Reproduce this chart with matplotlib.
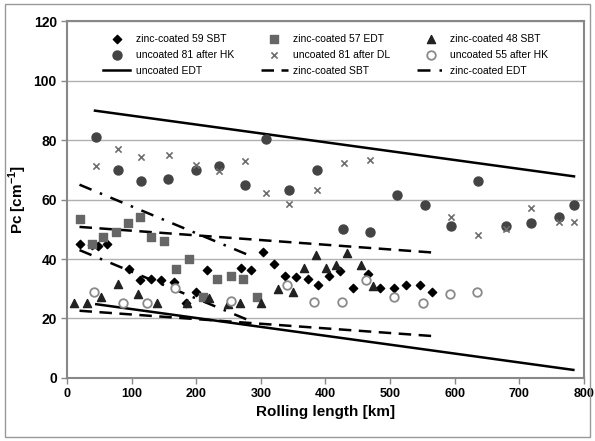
import matplotlib.pyplot as plt
from matplotlib.patches import Rectangle

plt.rcParams['font.family'] = ['Liberation Sans', 'DejaVu Sans']
plt.rcParams['mathtext.fontset'] = 'custom'
plt.rcParams['mathtext.rm'] = 'Liberation Sans'
plt.rcParams['mathtext.bf'] = 'Liberation Sans:bold'

# zinc-coated 59 SBT (diamonds)
km_z59 = [19, 38, 47, 61, 95, 113, 130, 146, 165, 184, 199, 217, 269, 285, 303, 321, 338, 355, 373,
          389, 405, 423, 443, 466, 485, 506, 525, 547, 565]
pc_z59 = [45, 44.6, 44.3, 45, 36.8, 33.1, 33.3, 33.1, 32.3, 25.3, 29, 36.2, 37, 36.2, 42.3, 38.2, 34.3, 33.8, 33.2,
          31.3, 34.3, 36.1, 30.1, 35.1, 30.1, 30.1, 31.3, 31.2, 29]

# zinc-coated 57 EDT (squares)
km_z57 = [19, 38, 56, 76, 94, 113, 130, 150, 168, 189, 211, 232, 253, 273, 294]
pc_z57 = [53.4, 45, 47.4, 49, 52.2, 54, 47.3, 46.1, 36.8, 39.9, 27.3, 33.2, 34.3, 33.2, 27.3]

# zinc-coated 48 SBT (triangles)
km_z48 = [10, 30, 52, 79, 109, 139, 185, 219, 249, 268, 300, 327, 349, 366, 385, 401, 416, 434, 455, 474]
pc_z48 = [25.2, 25.2, 27.1, 31.7, 28.3, 25.3, 25.3, 27, 24.9, 25.3, 25.1, 29.9, 29, 36.9, 41.2, 37, 38.1, 42.1, 38, 31]

# uncoated 81 after HK (filled circles)
km_u81hk = [44, 78, 114, 156, 200, 235, 276, 308, 343, 387, 427, 469, 511, 554, 594, 637, 680, 718, 761, 785]
pc_u81hk = [81, 70, 66.2, 67, 70, 71.2, 65, 80.4, 63.3, 70, 50.2, 49.1, 61.4, 58.3, 51, 66.2, 51, 52.1, 54.1, 58.3]

# uncoated 81 after DL (x)
km_u81dl = [44, 79, 114, 157, 200, 235, 276, 308, 343, 387, 428, 469, 594, 637, 680, 718, 761, 785]
pc_u81dl = [71.2, 77, 74.3, 75, 71.5, 69.5, 72.9, 62.2, 58.4, 63.3, 72.4, 73.2, 54.1, 48, 50, 57.1, 52.5, 52.5]

# uncoated 55 after HK (open circles)
km_u55 = [42, 86, 124, 167, 254, 340, 383, 425, 463, 506, 551, 593, 635]
pc_u55 = [29, 25.3, 25.3, 30.1, 26, 31.2, 25.4, 25.4, 33.1, 27.1, 25.3, 28.2, 29]

# trend lines (start, end)
edt_unc_x = [[43, 785], [45, 784]]
edt_unc_y = [[89.9, 67.8], [24.8, 2.7]]
sbt_zinc_x = [[19, 565], [19, 565]]
sbt_zinc_y = [[50.8, 42.2], [22.6, 14.1]]
edt_zinc_x = [[19, 290], [19, 290]]
edt_zinc_y = [[65, 40.5], [43, 18.6]]

fig = plt.figure(figsize=(5.95, 4.41), dpi=100)
ax = fig.add_axes([0.113, 0.143, 0.868, 0.809])

ax.scatter(km_z59, pc_z59, marker='D', s=18, color='black', label='zinc-coated 59 SBT', zorder=3)
ax.scatter(km_z57, pc_z57, marker='s', s=36, color='#666666', label='zinc-coated 57 EDT', zorder=3)
ax.scatter(km_z48, pc_z48, marker='^', s=34, color='#222222', label='zinc-coated 48 SBT', zorder=3)
ax.scatter(km_u81hk, pc_u81hk, marker='o', s=42, color='#444444', label='uncoated 81 after HK', zorder=3)
ax.scatter(km_u81dl, pc_u81dl, marker='x', s=20, color='#6e6e6e', linewidths=1.2,
           label='uncoated 81 after DL', zorder=3)
ax.scatter(km_u55, pc_u55, marker='o', s=38, facecolors='white', edgecolors='#8a8a8a', linewidths=1.3,
           label='uncoated 55 after HK', zorder=3)

for i in range(2):
    ax.plot(edt_unc_x[i], edt_unc_y[i], color='black', lw=1.8,
            label='uncoated EDT' if i == 0 else None, zorder=2)
for i in range(2):
    ax.plot(edt_zinc_x[i], edt_zinc_y[i], color='black', lw=1.8, dashes=(5.2, 3.6, 1, 3.6),
            label='zinc-coated EDT' if i == 0 else None, zorder=2)
for i in range(2):
    ax.plot(sbt_zinc_x[i], sbt_zinc_y[i], color='black', lw=1.8, dashes=(5, 3),
            label='zinc-coated SBT' if i == 0 else None, zorder=2)

ax.set_xlim(0, 800)
ax.set_ylim(0, 120)
ax.set_xticks(range(0, 801, 100))
ax.set_yticks(range(0, 121, 20))
ax.yaxis.grid(True, color='#b0b0b0', lw=1)
ax.set_axisbelow(True)
for sp in ax.spines.values():
    sp.set_color('#888888')
    sp.set_linewidth(1.5)
ax.tick_params(axis='both', colors='#888888', labelcolor='black', length=4, width=1)
for lbl in ax.get_xticklabels():
    lbl.set_fontweight('bold')
    lbl.set_fontsize(9)
for lbl in ax.get_yticklabels():
    lbl.set_fontweight('bold')
    lbl.set_fontsize(10)

ax.set_xlabel('Rolling length [km]', fontsize=11, fontweight='bold', labelpad=3)
ax.set_ylabel('Pc [cm$^{\\mathbf{-1}}$]', fontsize=11, fontweight='bold', labelpad=3)

h, l = ax.get_legend_handles_labels()
order = ['zinc-coated 59 SBT', 'uncoated 81 after HK', 'uncoated EDT',
         'zinc-coated 57 EDT', 'uncoated 81 after DL', 'zinc-coated SBT',
         'zinc-coated 48 SBT', 'uncoated 55 after HK', 'zinc-coated EDT']
hd = dict(zip(l, h))
ax.legend([hd[k] for k in order], order, ncol=3, loc='upper center', bbox_to_anchor=(0.5, 0.99),
          frameon=False, fontsize=7.5, handlelength=2.6, columnspacing=2.6, labelspacing=0.55,
          handletextpad=0.5)

fig.patches.append(Rectangle((0.008, 0.008), 0.984, 0.984, transform=fig.transFigure,
                             fill=False, edgecolor='#999999', lw=1))

fig.savefig('out.png', dpi=100)
